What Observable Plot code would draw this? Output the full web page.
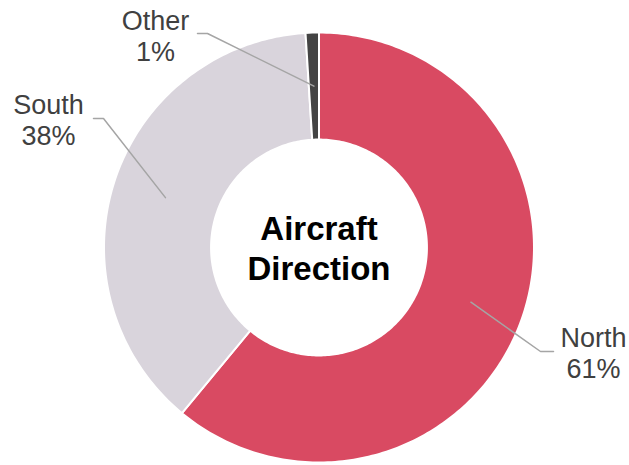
<!DOCTYPE html>
<html>
<head>
<meta charset="utf-8">
<script src="https://cdn.jsdelivr.net/npm/d3@7"></script>
<script src="https://cdn.jsdelivr.net/npm/@observablehq/plot@0.6"></script>
<style>
  html, body { margin: 0; padding: 0; background: #fff; }
  svg { display: block; }
</style>
</head>
<body>
<div id="chart"></div>
<script>
// ---- data ----
const categories = ["North", "South", "Other"];
const shares = [61, 38, 1];
const colors = ["#D94A62", "#D9D4DC", "#444444"];
const centerTitle = "Aircraft\nDirection";

// ---- layout (pixels -> unit coordinates) ----
const W = 629, H = 465, CX = 318.5, CY = 247, R = 215;
const INNER = 0.502;
const toX = px => (px - CX) / R;
const toY = py => (CY - py) / R;

// slice geometry (clockwise from 12 o'clock)
const total = d3.sum(shares);
let acc = 0;
const slices = categories.map((c, i) => {
  const a0 = acc / total * 2 * Math.PI;
  acc += shares[i];
  const a1 = acc / total * 2 * Math.PI;
  return {c, a0, a1, mid: (a0 + a1) / 2, share: shares[i]};
});
const pts = [];
for (const s of slices) {
  const n = Math.max(2, Math.ceil((s.a1 - s.a0) / (2 * Math.PI) * 360));
  const ring = [];
  for (let k = 0; k <= n; k++) {
    const a = s.a0 + (s.a1 - s.a0) * k / n;
    ring.push({c: s.c, x: Math.sin(a), y: Math.cos(a)});
  }
  for (let k = n; k >= 0; k--) {
    const a = s.a0 + (s.a1 - s.a0) * k / n;
    ring.push({c: s.c, x: INNER * Math.sin(a), y: INNER * Math.cos(a)});
  }
  ring.push(ring[0]);
  pts.push(...ring);
}

// label layout: elbow, line end, text anchor (pixels)
const labelLayout = {
  North: {elbow: [540, 351], end: [553, 351], text: [593, 351.9]},
  South: {elbow: [103, 118], end: [93, 118], text: [48, 118.9]},
  Other: {elbow: [207, 33], end: [197, 33], text: [155, 34.9]}
};
const midR = (1 + INNER) / 2;
const leaders = [];
const labels = [];
for (const s of slices) {
  const L = labelLayout[s.c];
  leaders.push({c: s.c, x: midR * Math.sin(s.mid), y: midR * Math.cos(s.mid)});
  leaders.push({c: s.c, x: toX(L.elbow[0]), y: toY(L.elbow[1])});
  leaders.push({c: s.c, x: toX(L.end[0]), y: toY(L.end[1])});
  labels.push({c: s.c, x: toX(L.text[0]), y: toY(L.text[1]), t: `${s.c}\n${s.share}%`});
}

const chart = Plot.plot({
  width: W,
  height: H,
  margin: 0,
  style: {background: "#fff", overflow: "visible"},
  x: {domain: [toX(0), toX(W)], range: [0, W], axis: null},
  y: {domain: [toY(H), toY(0)], range: [H, 0], axis: null},
  color: {domain: categories, range: colors},
  marks: [
    Plot.line(pts, {x: "x", y: "y", z: "c", fill: "c", stroke: "white", strokeWidth: 2, strokeLinejoin: "round", curve: "linear"}),
    Plot.line(leaders, {x: "x", y: "y", z: "c", stroke: "#A5A5A5", strokeWidth: 1.5, curve: "linear"}),
    Plot.text(labels, {x: "x", y: "y", text: "t", fontSize: 27, lineHeight: 31 / 27, fill: "#404040", fontFamily: "Liberation Sans, Arial, sans-serif"}),
    Plot.text([centerTitle], {x: () => 0, y: () => toY(246.4), text: d => d, fontSize: 33, lineHeight: 40 / 33, fontWeight: "bold", fill: "#000", fontFamily: "Liberation Sans, Arial, sans-serif"})
  ]
});
document.getElementById("chart").appendChild(chart);
</script>
</body>
</html>
